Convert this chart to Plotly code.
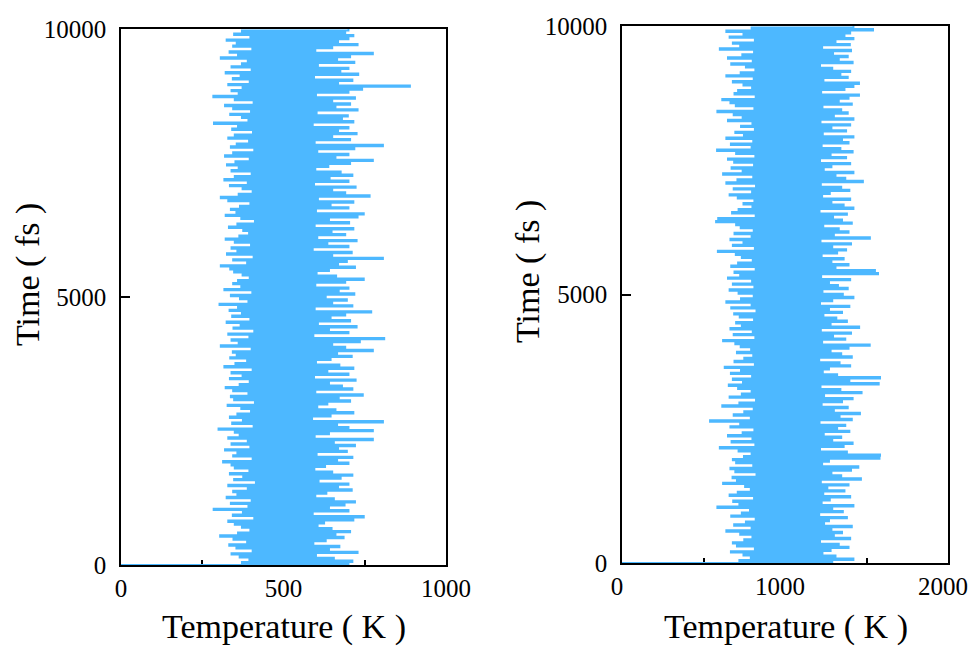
import numpy as np
import plotly.graph_objects as go

# Temperature traces (K) in time order from t = 0.
# The first value is the start at 0 K, then alternating hot / cool excursions.
temp_a = [0, 700,
    372, 712, 395, 655, 365, 600, 340, 728, 405, 640, 355, 672, 333, 592, 388, 630, 346, 685, 305, 660,
    360, 705, 398, 648, 372, 605, 350, 625, 330, 715, 410, 747, 344, 590, 375, 700, 285, 640, 392, 688,
    338, 720, 402, 655, 325, 598, 358, 632, 345, 710, 390, 668, 330, 700, 415, 608, 348, 676, 376, 712,
    335, 650, 395, 595, 350, 628, 340, 700, 314, 665, 405, 712, 345, 602, 358, 695, 320, 668, 398, 720,
    340, 655, 390, 775, 330, 596, 365, 640, 350, 775, 300, 700, 408, 665, 342, 806, 375, 588, 335, 645,
    358, 715, 400, 660, 370, 604, 328, 635, 412, 705, 348, 670, 338, 744, 392, 598, 345, 712, 322, 680,
    365, 640, 396, 722, 335, 594, 374, 700, 340, 635, 405, 715, 318, 672, 352, 600, 388, 645, 336, 710,
    356, 665, 344, 775, 402, 690, 307, 650, 362, 735, 340, 810, 395, 592, 330, 700, 410, 640, 346, 725,
    368, 606, 325, 705, 398, 645, 342, 690, 372, 770, 334, 596, 360, 712, 303, 650, 392, 695, 366, 630,
    338, 718, 404, 670, 318, 700, 370, 598, 345, 690, 360, 747, 396, 662, 374, 602, 348, 640, 336, 720,
    307, 668, 388, 695, 345, 806, 408, 650, 326, 710, 358, 590, 340, 700, 400, 635, 350, 725, 322, 604,
    364, 690, 394, 648, 376, 715, 332, 596, 358, 702, 412, 640, 370, 728, 322, 747, 355, 600, 338, 700,
    366, 645, 398, 715, 330, 606, 307, 765, 362, 690, 405, 650, 374, 722, 335, 594, 390, 700, 318, 642,
    350, 712, 402, 676, 340, 598, 362, 638, 326, 705, 352, 775, 396, 660, 320, 700, 345, 604, 410, 718,
    338, 806, 356, 596, 394, 705, 330, 650, 350, 725, 406, 668, 342, 700, 360, 590, 286, 715, 392, 680,
    372, 698, 336, 602, 400, 728, 345, 660, 320, 705, 408, 650, 350, 720, 284, 600, 362, 700, 340, 742,
    374, 889, 330, 668, 396, 712, 344, 594, 368, 730, 322, 675, 402, 700, 340, 606, 372, 718, 390, 665,
    307, 705, 360, 775, 334, 598, 404, 650, 345, 728, 356, 668, 325, 700, 398, 715, 348, 690, 372, 700]

temp_b = [0, 1290,
    720, 1420, 790, 1310, 745, 1230, 668, 1280, 815, 1390, 705, 1330, 680, 1215, 750, 1400, 800, 1300, 725, 1350,
    640, 1285, 795, 1410, 688, 1240, 760, 1270, 820, 1380, 670, 1210, 735, 1355, 785, 1290, 585, 1420, 720, 1225,
    682, 1275, 810, 1400, 660, 1235, 710, 1365, 790, 1260, 755, 1390, 620, 1220, 705, 1466, 678, 1345, 825, 1285,
    695, 1405, 665, 1450, 805, 1228, 700, 1270, 680, 1580, 748, 1583, 795, 1380, 715, 1215, 600, 1360, 818, 1415,
    672, 1290, 800, 1345, 650, 1238, 740, 1395, 812, 1320, 665, 1370, 725, 1212, 540, 1410, 790, 1335, 685, 1460,
    750, 1300, 808, 1385, 615, 1225, 720, 1350, 822, 1415, 660, 1240, 735, 1470, 795, 1340, 712, 1218, 655, 1575,
    742, 1395, 680, 1583, 798, 1320, 668, 1232, 730, 1270, 630, 1400, 815, 1335, 690, 1210, 750, 1410, 805, 1345,
    705, 1280, 792, 1390, 728, 1520, 695, 1228, 620, 1370, 818, 1295, 685, 1405, 802, 1220, 665, 1455, 735, 1280,
    700, 1380, 810, 1315, 722, 1236, 688, 1350, 825, 1270, 670, 1395, 795, 1215, 640, 1290, 730, 1420, 808, 1355,
    715, 1230, 660, 1385, 812, 1325, 680, 1270, 798, 1400, 650, 1222, 725, 1571, 690, 1552, 820, 1310, 670, 1390,
    712, 1285, 802, 1360, 735, 1225, 698, 1320, 588, 1375, 815, 1290, 680, 1405, 745, 1218, 665, 1521, 795, 1300,
    690, 1390, 808, 1330, 728, 1235, 700, 1410, 577, 1350, 590, 1295, 820, 1380, 675, 1212, 715, 1420, 800, 1360,
    745, 1285, 812, 1400, 710, 1228, 660, 1275, 798, 1395, 685, 1345, 822, 1220, 640, 1478, 708, 1370, 805, 1310,
    620, 1420, 740, 1238, 672, 1285, 810, 1400, 688, 1215, 650, 1375, 818, 1280, 700, 1415, 583, 1340, 795, 1225,
    668, 1390, 805, 1350, 640, 1420, 748, 1232, 695, 1375, 815, 1285, 730, 1400, 800, 1218, 650, 1420, 740, 1300,
    685, 1385, 585, 1345, 812, 1230, 698, 1410, 665, 1330, 615, 1390, 820, 1454, 690, 1222, 712, 1365, 798, 1420,
    745, 1454, 680, 1236, 808, 1385, 640, 1340, 728, 1400, 818, 1290, 760, 1215, 670, 1415, 802, 1330, 650, 1385,
    738, 1295, 810, 1405, 600, 1228, 725, 1398, 680, 1310, 815, 1420, 660, 1365, 745, 1400, 640, 1540, 795, 1420]

# Time axis (fs): samples evenly spaced over the 10 ps run
t_end = 10000
time_a = np.linspace(0, t_end, len(temp_a))
time_b = np.linspace(0, t_end, len(temp_b))

x_ticks_a = [0, 500, 1000]
x_ticks_b = [0, 1000, 2000]
y_ticks = [0, 5000, 10000]

# page body keeps an 8px margin, so the figure sits 8px in from the window corner
OFF = 8
W, H = 977 - OFF, 648 - OFF


def fx(px):
    return (px - OFF) / W


def fy(py):
    return (H - (py - OFF)) / H


line_color = '#4DB8FF'
serif = 'Liberation Serif, Times New Roman, serif'

fig = go.Figure()
# step shape: each sample is drawn as a horizontal stroke, like the dense MD trace
fig.add_trace(go.Scatter(x=temp_a, y=time_a, mode='lines', xaxis='x', yaxis='y',
                         line=dict(color=line_color, width=1.9, shape='hv'), showlegend=False))
fig.add_trace(go.Scatter(x=temp_b, y=time_b, mode='lines', xaxis='x2', yaxis='y2',
                         line=dict(color=line_color, width=1.9, shape='hv'), showlegend=False))

axis_common = dict(showline=True, linecolor='black', linewidth=1.5, mirror=True,
                   ticks='inside', ticklen=9, tickwidth=1.5, tickcolor='black',
                   showgrid=False, zeroline=False, layer='below traces', automargin=False,
                   tickfont=dict(family=serif, size=25, color='black'))

fig.update_layout(
    width=W, height=H,
    paper_bgcolor='white', plot_bgcolor='white',
    margin=dict(l=0, r=0, t=0, b=0),
    xaxis=dict(domain=[fx(121), fx(446)], range=[0, 1000], tickvals=x_ticks_a,
               ticktext=[str(v) for v in x_ticks_a], anchor='y',
               minor=dict(ticks='inside', ticklen=5, tickwidth=1.5, tickcolor='black', dtick=250),
               **axis_common),
    yaxis=dict(domain=[fy(565), fy(29)], range=[0, t_end], tickvals=y_ticks,
               ticktext=[str(v) for v in y_ticks], anchor='x', ticklabelstandoff=8, **axis_common),
    xaxis2=dict(domain=[fx(622), fx(948)], range=[0, 2000], tickvals=x_ticks_b,
                ticktext=[str(v) for v in x_ticks_b], anchor='y2', ticklabelshift=-5,
                minor=dict(ticks='inside', ticklen=5, tickwidth=1.5, tickcolor='black', dtick=500),
                **axis_common),
    yaxis2=dict(domain=[fy(563), fy(26)], range=[0, t_end], tickvals=y_ticks,
                ticktext=[str(v) for v in y_ticks], anchor='x2', ticklabelstandoff=8, **axis_common),
)

# Axis titles placed as annotations so they sit where the original has them
title_font = dict(family=serif, size=34, color='black')
for xc, yc, txt, ang in [(284, 627, 'Temperature ( K )', 0),
                         (786, 627, 'Temperature ( K )', 0),
                         (28, 275, 'Time ( fs )', -90),
                         (528, 272, 'Time ( fs )', -90)]:
    fig.add_annotation(x=fx(xc), y=fy(yc), xref='paper', yref='paper',
                       text=txt, textangle=ang, showarrow=False,
                       xanchor='center', yanchor='middle', font=title_font)

fig.write_html("out.html")
